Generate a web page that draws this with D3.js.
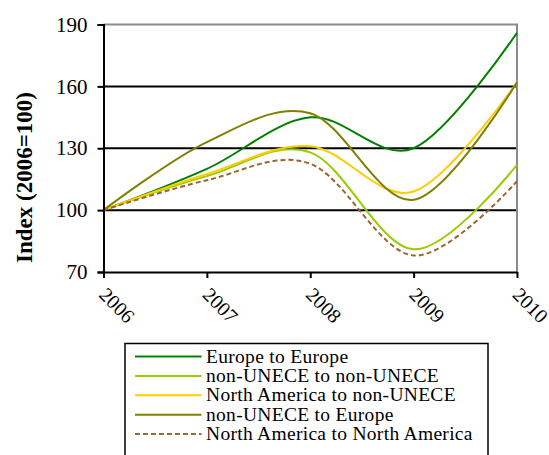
<!DOCTYPE html>
<html><head><meta charset="utf-8">
<script src="https://cdn.jsdelivr.net/npm/d3@7"></script>
<style>body{margin:0;background:#fff}svg{display:block}
svg text{font-family:"Liberation Serif","Times New Roman",Times,serif}</style>
</head><body>
<svg id="c" width="549" height="455"></svg>
<script>
const years = ["2006","2007","2008","2009","2010"];
const yTicks = [70,100,130,160,190];
const seriesNames = ["Europe to Europe","non-UNECE to non-UNECE","North America to non-UNECE","non-UNECE to Europe","North America to North America"];
const europeToEurope = [100,120,145,130,186];
const nonUneceToNonUnece = [100,116.5,128,81,122];
const naToNonUnece = [100,117.5,131,109,162];
const nonUneceToEurope = [100,133,147,105,162];
const naToNa = [100,114.5,122.5,78,114];
const seriesValues = [europeToEurope,nonUneceToNonUnece,naToNonUnece,nonUneceToEurope,naToNa];
const colors = ["#008000","#99cc00","#ffcc00","#808000","#996633"];
const dashes = [null,null,null,null,"5,3"];

const svg = d3.select("#c");
const L=103.5, R=517, T=24.5, B=272;
const x = d3.scalePoint().domain(years).range([L,R]);
const y = d3.scaleLinear().domain([70,190]).range([B,T]);

svg.append("g").selectAll("line").data(yTicks.filter(v=>v>70&&v<190)).join("line")
  .attr("x1",L).attr("x2",R).attr("y1",d=>y(d)).attr("y2",d=>y(d))
  .attr("stroke","#000").attr("stroke-width",2);
svg.append("path").attr("d",`M${L},${T}H${R}V${B}`).attr("fill","none").attr("stroke","#8c8c8c").attr("stroke-width",2);

const line = d3.line().x((d,i)=>x(years[i])).y(d=>y(d)).curve(d3.curveCardinal.tension(0));
seriesValues.forEach((vals,k)=>{
  svg.append("path").attr("d",line(vals)).attr("fill","none")
    .attr("stroke",colors[k]).attr("stroke-width",2)
    .attr("stroke-dasharray",dashes[k]);
});

const ya = svg.append("g").attr("transform",`translate(${L},0)`)
  .call(d3.axisLeft(y).tickValues(yTicks).tickSize(6).tickPadding(10));
ya.attr("font-family",null);
ya.select(".domain").attr("stroke","#000").attr("stroke-width",2);
ya.selectAll(".tick line").attr("stroke","#000").attr("stroke-width",2);
ya.selectAll("text").attr("font-size",21).attr("fill","#000");

const xa = svg.append("g").attr("transform",`translate(0,${B})`)
  .call(d3.axisBottom(x).tickSize(6).tickSizeOuter(0));
xa.attr("font-family",null);
xa.select(".domain").attr("stroke","#000").attr("stroke-width",2);
xa.selectAll(".tick line").attr("stroke","#000").attr("stroke-width",2);
xa.selectAll("text").attr("font-size",20).attr("fill","#000")
  .attr("text-anchor","start").attr("dy",null).attr("y",null)
  .attr("transform","translate(-6,24) rotate(45)");

svg.append("text").attr("transform","translate(32,177.5) rotate(-90)")
  .attr("text-anchor","middle").attr("font-weight","bold")
  .attr("font-size",23).text("Index (2006=100)");

const lg = svg.append("g");
lg.append("rect").attr("x",125).attr("y",343.5).attr("width",363).attr("height",130)
  .attr("fill","#fff").attr("stroke","#000").attr("stroke-width",1.5);
const rowY = d3.scaleLinear().domain([0,4]).range([356.5,434]);
seriesNames.forEach((n,k)=>{
  lg.append("line").attr("x1",135).attr("x2",201.5).attr("y1",rowY(k)).attr("y2",rowY(k))
    .attr("stroke",colors[k]).attr("stroke-width",2).attr("stroke-dasharray",dashes[k]);
  lg.append("text").attr("x",206).attr("y",rowY(k)).attr("dy","0.32em")
    .attr("font-size",19.5).attr("letter-spacing",0.3).text(n);
});
</script>
</body></html>
